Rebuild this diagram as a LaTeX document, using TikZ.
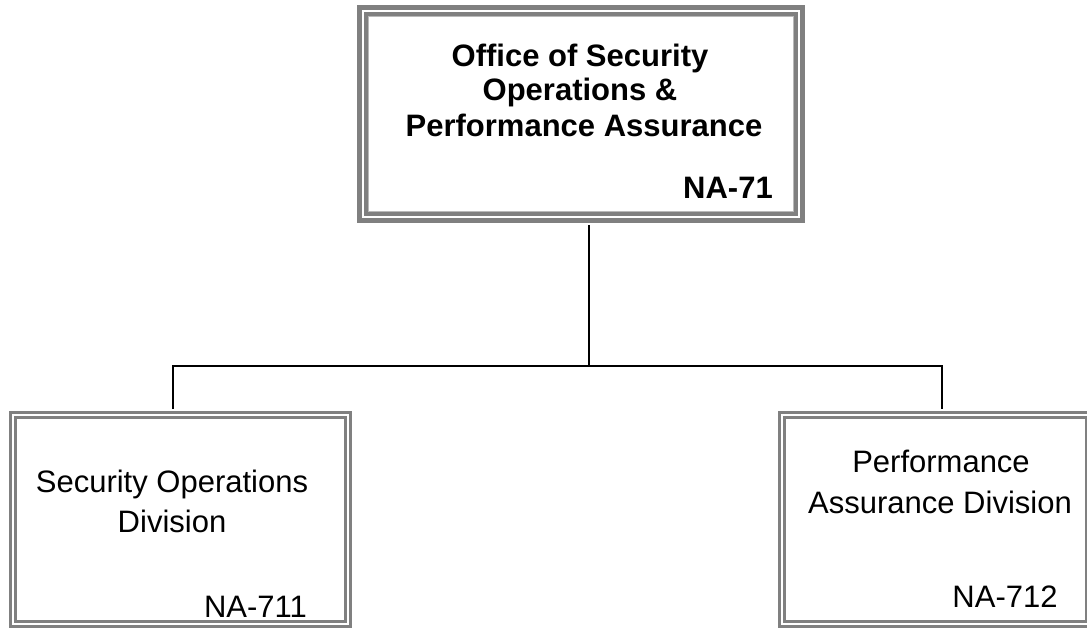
\documentclass[tikz,border=0pt]{standalone}
\usepackage{fontspec}
\setmainfont{Liberation Sans}
\usetikzlibrary{positioning, calc}

\begin{document}
\begin{tikzpicture}[x=1pt, y=-1pt,
    bigbox/.style={draw=gray, line width=4.5pt, double=white, double distance=2.5pt, inner sep=0pt},
    divbox/.style={draw=gray, line width=3pt, double=white, double distance=2pt, inner sep=0pt},
    link/.style={line width=1.3pt},
    titletext/.style={font=\fontsize{31}{35}\selectfont\bfseries, inner sep=0pt, anchor=base},
    divtext/.style={font=\fontsize{31}{35}\selectfont, inner sep=0pt, anchor=base}]
            % Cadre de la page (proportions de l'original)
            \useasboundingbox (0,0) rectangle (1087,628);
            % Boîte du haut (bureau NA-71) avec filet intérieur clair
            \node[bigbox, minimum width=436pt, minimum height=206pt] (top) at (581,114) {};
            \draw[gray!55, line width=1pt] ($(top.north west)+(8,8)$) rectangle ($(top.south east)+(-8,-8)$);
            % Boîtes des deux divisions
            \node[divbox, minimum width=335pt, minimum height=209pt] (sod) at (180.5,519) {};
            \node[divbox, minimum width=307pt, minimum height=209pt] (pad) at (935,519) {};
            % Points de la barre horizontale
            \coordinate (hub) at (589,366);
            \coordinate (lft) at (173,366);
            \coordinate (rgt) at (942,366);
            \coordinate (thk1) at (189,366);
            \coordinate (thk2) at (510,366);
            % Liaisons
            \draw[link, shorten <=6pt] (top.south -| hub) -- (hub);
            \draw[link, shorten <=4pt, shorten >=4pt] (lft |- sod.north) -- (lft) -- (rgt) -- (rgt |- pad.north);
            \draw[line width=2.8pt] (thk1) -- (thk2);
            % Textes de la boîte du haut
            \node[titletext] (ttl1) at (580,67) {Office of Security};
            \node[titletext] (ttl2) at (580,101) {Operations \&};
            \node[titletext] (ttl3) at (584,137) {Performance Assurance};
            \node[titletext, anchor=base east] (topcode) at (773,199) {NA-71};
            % Textes des divisions
            \node[divtext] (sod1) at (172,492) {Security Operations};
            \node[divtext] (sod2) at (172,532) {Division};
            \node[divtext] (sodcode) at (255.5,617) {NA-711};
            \node[divtext] (pad1) at (941,472) {Performance};
            \node[divtext] (pad2) at (940,513) {Assurance Division};
            \node[divtext] (padcode) at (1005,607) {NA-712};
        \end{tikzpicture}
\end{document}
